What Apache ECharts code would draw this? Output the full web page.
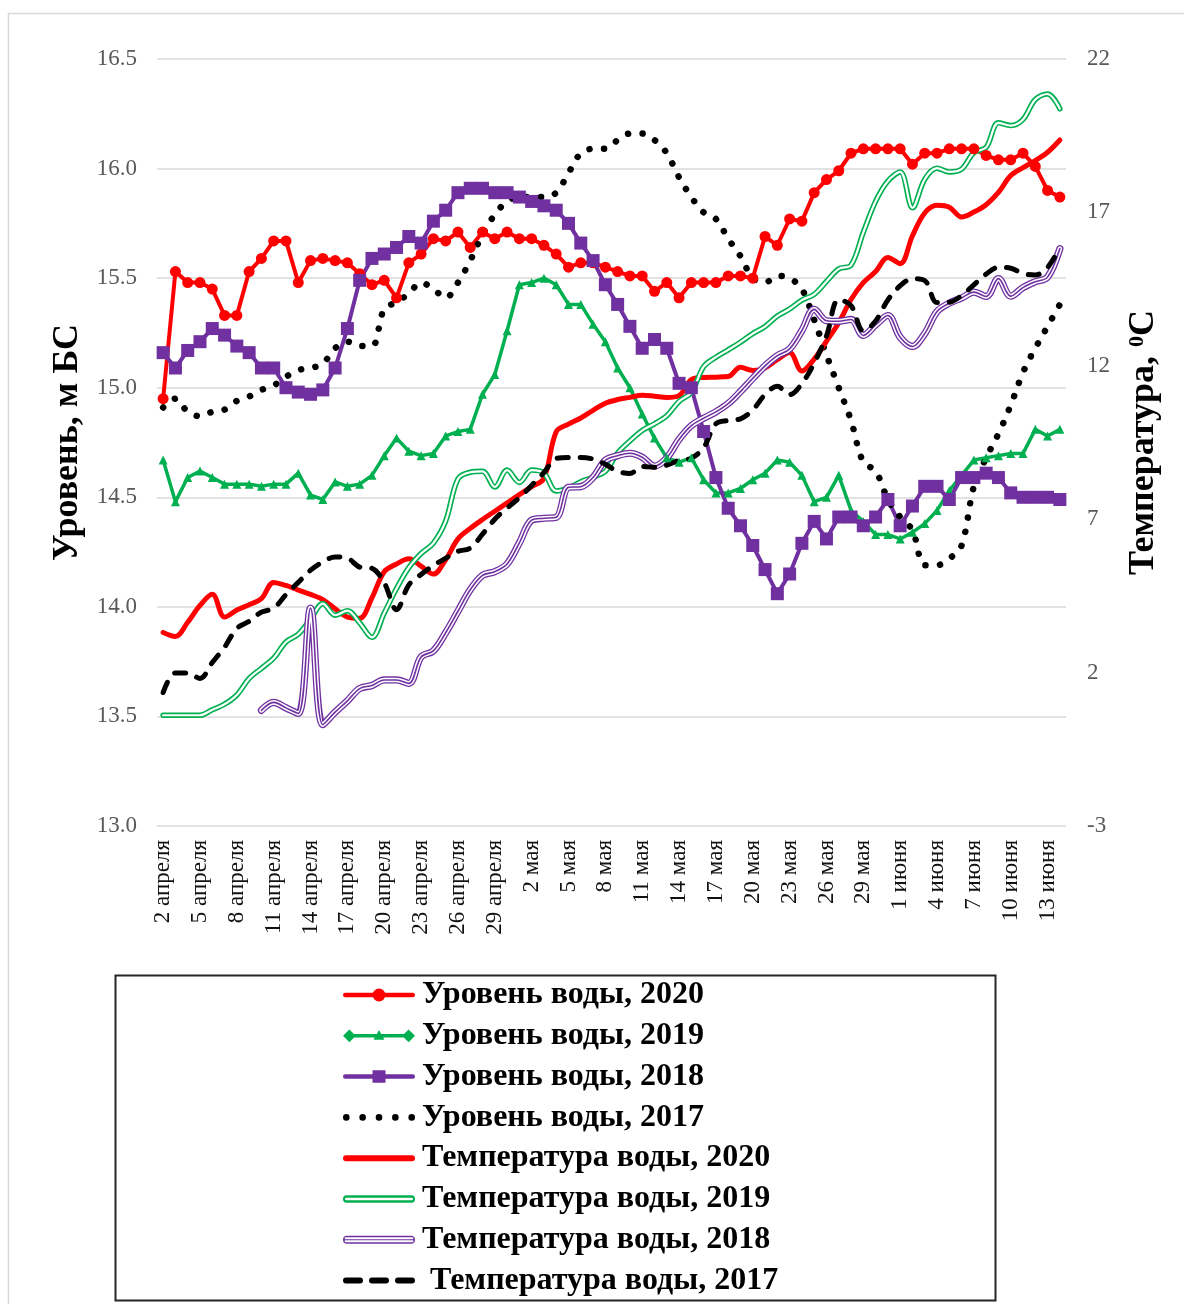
<!DOCTYPE html>
<html>
<head>
<meta charset="utf-8">
<script src="https://cdn.jsdelivr.net/npm/echarts@6/dist/echarts.min.js"></script>
<style>
  html, body { margin: 0; padding: 0; background: #ffffff; }
  #chart { width: 1184px; height: 1304px; }
</style>
</head>
<body>
<div id="chart"></div>
<script>
// Daily observations, 2 April – 14 June
const months = [
  { name: 'апреля', from: 2, to: 30 },
  { name: 'мая', from: 1, to: 31 },
  { name: 'июня', from: 1, to: 14 }
];
const dates = [];
months.forEach(m => { for (let d = m.from; d <= m.to; d++) dates.push(d + ' ' + m.name); });

// Water level, m BS (left axis)
const level2020 = [14.95, 15.53, 15.48, 15.48, 15.45, 15.33, 15.33, 15.53, 15.59, 15.67, 15.67, 15.48, 15.58, 15.59, 15.58, 15.57, 15.52, 15.47, 15.49, 15.41,
  15.57, 15.61, 15.68, 15.67, 15.71, 15.64, 15.71, 15.68, 15.71, 15.68, 15.68, 15.65, 15.61, 15.55, 15.57, 15.57, 15.55, 15.53, 15.51, 15.51,
  15.44, 15.48, 15.41, 15.48, 15.48, 15.48, 15.51, 15.51, 15.50, 15.69, 15.65, 15.77, 15.76, 15.89, 15.95, 15.99, 16.07, 16.09, 16.09, 16.09,
  16.09, 16.02, 16.07, 16.07, 16.09, 16.09, 16.09, 16.06, 16.04, 16.04, 16.07, 16.01, 15.90, 15.87];
const level2019 = [14.67, 14.48, 14.59, 14.62, 14.59, 14.56, 14.56, 14.56, 14.55, 14.56, 14.56, 14.61, 14.51, 14.49, 14.57, 14.55, 14.56, 14.60, 14.69, 14.77,
  14.71, 14.69, 14.70, 14.78, 14.80, 14.81, 14.97, 15.06, 15.26, 15.47, 15.48, 15.50, 15.47, 15.38, 15.38, 15.29, 15.21, 15.09, 15.00, 14.88,
  14.77, 14.68, 14.66, 14.68, 14.58, 14.52, 14.52, 14.54, 14.58, 14.61, 14.67, 14.66, 14.60, 14.48, 14.50, 14.60, 14.44, 14.39, 14.33, 14.33,
  14.31, 14.34, 14.38, 14.44, 14.53, 14.60, 14.67, 14.68, 14.69, 14.70, 14.70, 14.81, 14.78, 14.81];
const level2018 = [15.16, 15.09, 15.17, 15.21, 15.27, 15.24, 15.19, 15.16, 15.09, 15.09, 15.00, 14.98, 14.97, 14.99, 15.09, 15.27, 15.49, 15.59, 15.61, 15.64,
  15.69, 15.66, 15.76, 15.81, 15.89, 15.91, 15.91, 15.89, 15.89, 15.87, 15.85, 15.83, 15.81, 15.75, 15.66, 15.58, 15.47, 15.38, 15.28, 15.18,
  15.22, 15.18, 15.02, 15.00, 14.80, 14.59, 14.45, 14.37, 14.28, 14.17, 14.06, 14.15, 14.29, 14.39, 14.31, 14.41, 14.41, 14.37, 14.41, 14.49,
  14.37, 14.46, 14.55, 14.55, 14.49, 14.59, 14.59, 14.61, 14.59, 14.52, 14.50, 14.50, 14.50, 14.49];
const level2017 = [14.91, 14.95, 14.89, 14.87, 14.89, 14.90, 14.94, 14.96, 14.99, 15.01, 15.05, 15.08, 15.09, 15.11, 15.18, 15.21, 15.19, 15.19, 15.36, 15.39,
  15.43, 15.48, 15.45, 15.41, 15.48, 15.58, 15.70, 15.79, 15.85, 15.87, 15.87, 15.87, 15.89, 15.98, 16.07, 16.09, 16.09, 16.13, 16.16, 16.16,
  16.13, 16.07, 15.96, 15.87, 15.80, 15.77, 15.68, 15.60, 15.50, 15.48, 15.51, 15.50, 15.45, 15.31, 15.15, 15.00, 14.85, 14.66, 14.62, 14.49,
  14.41, 14.35, 14.19, 14.19, 14.22, 14.28, 14.55, 14.68, 14.79, 14.92, 15.07, 15.18, 15.28, 15.38];

// Water temperature, °C (right axis)
const temp2020 = [3.31, 3.18, 3.64, 4.19, 4.55, 3.81, 4.04, 4.21, 4.41, 4.94, 4.84, 4.69, 4.55, 4.38, 4.08, 3.81, 3.77, 4.44, 5.29, 5.54,
  5.71, 5.47, 5.21, 5.68, 6.36, 6.70, 6.99, 7.26, 7.53, 7.80, 8.06, 8.33, 9.85, 10.10, 10.30, 10.55, 10.78, 10.90, 10.97, 11.04,
  11.01, 10.97, 11.03, 11.55, 11.62, 11.63, 11.65, 11.95, 11.85, 11.93, 12.20, 12.43, 11.83, 12.22, 12.80, 13.40, 14.16, 14.71, 15.07, 15.53,
  15.33, 16.24, 16.98, 17.23, 17.17, 16.85, 17.01, 17.25, 17.65, 18.20, 18.46, 18.69, 18.96, 19.36];
const temp2019 = [0.61, 0.61, 0.61, 0.61, 0.79, 0.97, 1.27, 1.81, 2.14, 2.47, 3.00, 3.25, 3.74, 4.25, 3.87, 4.02, 3.62, 3.15, 3.94, 4.74,
  5.42, 5.88, 6.22, 6.94, 8.31, 8.53, 8.56, 8.05, 8.60, 8.20, 8.60, 8.50, 7.92, 8.02, 8.22, 8.37, 8.56, 9.16, 9.55, 9.89,
  10.11, 10.37, 10.84, 11.13, 11.97, 12.28, 12.52, 12.77, 13.05, 13.28, 13.62, 13.85, 14.14, 14.33, 14.75, 15.16, 15.28, 16.35, 17.36, 18.02,
  18.32, 17.15, 18.08, 18.44, 18.32, 18.41, 18.95, 19.12, 19.92, 19.83, 20.03, 20.68, 20.86, 20.38];
const temp2018 = [null, null, null, null, null, null, null, null, 0.77, 1.03, 0.85, 0.67, 4.10, 0.30, 0.71, 1.08, 1.48, 1.58, 1.76, 1.76,
  1.65, 2.51, 2.71, 3.30, 4.00, 4.70, 5.17, 5.29, 5.54, 6.23, 6.97, 7.03, 7.06, 8.04, 8.06, 8.36, 8.92, 9.07, 9.15, 9.02,
  8.73, 9.00, 9.60, 10.05, 10.29, 10.50, 10.77, 11.16, 11.59, 12.00, 12.33, 12.55, 13.15, 13.84, 13.47, 13.45, 13.51, 12.99, 13.33, 13.64,
  12.93, 12.63, 13.05, 13.77, 14.04, 14.21, 14.40, 14.26, 14.84, 14.27, 14.55, 14.74, 14.89, 15.82];
const temp2017 = [1.35, 1.99, 1.99, 1.81, 2.33, 2.83, 3.44, 3.67, 3.97, 4.10, 4.54, 4.94, 5.34, 5.61, 5.77, 5.73, 5.44, 5.40, 4.93, 4.05,
  4.86, 5.20, 5.49, 5.73, 5.95, 6.06, 6.51, 7.00, 7.36, 7.70, 8.10, 8.52, 8.98, 9.01, 9.01, 8.96, 8.79, 8.56, 8.49, 8.72,
  8.69, 8.76, 8.92, 8.99, 9.33, 10.11, 10.22, 10.27, 10.56, 11.06, 11.33, 11.06, 11.42, 12.09, 12.97, 14.16, 13.96, 13.14, 13.46, 14.15,
  14.61, 14.84, 14.78, 14.06, 14.07, 14.29, 14.64, 14.99, 15.21, 15.18, 15.01, 14.96, 15.21, 15.86];

// Axis ranges and tick labels
const levelTicks = { min: 13.0, max: 16.5, step: 0.5 };
const tempTicks = [-3, 2, 7, 12, 17, 22];

const names = {
  l2020: 'Уровень воды, 2020',
  l2019: 'Уровень воды, 2019',
  l2018: 'Уровень воды, 2018',
  l2017: 'Уровень воды, 2017',
  t2020: 'Температура воды, 2020',
  t2019: 'Температура воды, 2019',
  t2018: 'Температура воды, 2018',
  t2017: ' Температура воды, 2017'
};

const RED = '#FF0000', GREEN = '#00B050', PURPLE = '#7030A0', BLACK = '#000000';
const SERIF = '"Liberation Serif", "Times New Roman", serif';

// --- legend icon outlines (72 px wide) ---
function stadium(x0, y0, x1, y1) {
  const r = (y1 - y0) / 2;
  return `M${x0 + r} ${y0}L${x1 - r} ${y0}A${r} ${r} 0 0 1 ${x1 - r} ${y1}L${x0 + r} ${y1}A${r} ${r} 0 0 1 ${x0 + r} ${y0}Z`;
}
function hole(x0, y0, x1, y1) {
  const r = (y1 - y0) / 2;
  return `M${x0 + r} ${y0}A${r} ${r} 0 0 0 ${x0 + r} ${y1}L${x1 - r} ${y1}A${r} ${r} 0 0 0 ${x1 - r} ${y0}Z`;
}
function circle(cx, cy, r) {
  return `M${cx - r} ${cy}A${r} ${r} 0 1 1 ${cx + r} ${cy}A${r} ${r} 0 1 1 ${cx - r} ${cy}Z`;
}
function square(x0, y0, x1, y1) {
  return `M${x0} ${y0}L${x1} ${y0}L${x1} ${y1}L${x0} ${y1}Z`;
}
function diamond(cx, cy, r) {
  return `M${cx} ${cy - r}L${cx + r} ${cy}L${cx} ${cy + r}L${cx - r} ${cy}Z`;
}
function triangle(cx, cy, w, h) {
  return `M${cx} ${cy - h * 0.6}L${cx + w} ${cy + h * 0.4}L${cx - w} ${cy + h * 0.4}Z`;
}
const dots = [0, 1, 2, 3, 4].map(k => circle(3.3 + k * (72 - 6.6) / 4, 3.3, 3.3)).join('');
const icons = {
  l2020: 'path://' + stadium(0, 5, 72, 9.5) + circle(36, 7.25, 6.5),
  l2019: 'path://' + stadium(5, 5.5, 67, 9) + diamond(6, 7.25, 6.5) + diamond(66, 7.25, 6.5) + triangle(36, 7.25, 5.5, 10),
  l2018: 'path://' + stadium(0, 5, 72, 9.5) + square(29.5, 1, 42.5, 13.5),
  l2017: 'path://' + dots,
  t2020: 'path://' + stadium(0, 0, 72, 6),
  t2019: 'path://' + stadium(0, 0, 72, 7.5) + hole(2, 2.4, 70, 5.1),
  t2018: 'path://' + stadium(0, 0, 72, 8) + hole(1.6, 1.5, 70.4, 3.5) + hole(1.6, 4.5, 70.4, 6.5),
  t2017: 'path://' + stadium(0, 0, 20, 6) + stadium(26, 0, 46, 6) + stadium(52, 0, 72, 6)
};

function levelLine(name, data, color, width, symbol, size, extra) {
  return Object.assign({
    name, type: 'line', data, yAxisIndex: 0, color,
    symbol, symbolSize: size, showSymbol: symbol !== 'none', showAllSymbol: true,
    lineStyle: { color, width },
    itemStyle: { color, borderWidth: 0 },
    emphasis: { disabled: true },
    animation: false
  }, extra || {});
}
function tempLine(name, data, color, width, lineExtra) {
  return {
    name, type: 'line', data, yAxisIndex: 1, color,
    symbol: 'none', smooth: 0.35, connectNulls: false,
    lineStyle: Object.assign({ color, width, cap: 'round', join: 'round' }, lineExtra || {}),
    emphasis: { disabled: true },
    animation: false
  };
}

const series = [
  levelLine(names.l2020, level2020, RED, 4, 'circle', 11),
  levelLine(names.l2019, level2019, GREEN, 3.5, 'triangle', 9),
  levelLine(names.l2018, level2018, PURPLE, 4, 'rect', 13),
  levelLine(names.l2017, level2017, BLACK, 6.5, 'none', 0, {
    smooth: 0.35,
    lineStyle: { color: BLACK, width: 6.5, type: [0.1, 14.4], cap: 'round' }
  }),
  tempLine(names.t2020, temp2020, RED, 5),
  // double green line: green body with a white core
  tempLine(names.t2019, temp2019, GREEN, 5.5),
  tempLine('core2019', temp2019, '#FFFFFF', 2.2),
  // triple purple line: purple body, white band, purple centre
  tempLine(names.t2018, temp2018, PURPLE, 7.2),
  tempLine('band2018', temp2018, '#FFFFFF', 4.6),
  tempLine('core2018', temp2018, PURPLE, 1.6),
  tempLine(names.t2017, temp2017, BLACK, 5, { type: [11, 12] })
];

const legendKeys = ['l2020', 'l2019', 'l2018', 'l2017', 't2020', 't2019', 't2018', 't2017'];

const option = {
  backgroundColor: '#ffffff',
  animation: false,
  grid: { left: 157, right: 118, top: 59, bottom: 478, outerBoundsMode: 'none', containLabel: false },
  legend: {
    orient: 'vertical',
    left: 343,
    top: 979,
    padding: 0,
    itemWidth: 72,
    itemHeight: 18,
    itemGap: 8.8,
    symbolKeepAspect: true,
    selectedMode: false,
    itemStyle: { borderWidth: 0 },
    textStyle: { fontFamily: SERIF, fontWeight: 'bold', fontSize: 32, color: '#000', lineHeight: 32, padding: [0, 0, 0, 2] },
    data: legendKeys.map(k => ({ name: names[k], icon: icons[k] }))
  },
  xAxis: {
    type: 'category',
    data: dates,
    boundaryGap: true,
    axisLine: { show: false },
    axisTick: { show: false },
    axisLabel: {
      interval: 2,
      rotate: 90,
      margin: 14,
      fontFamily: SERIF,
      fontSize: 23,
      color: '#111111'
    },
    splitLine: { show: false }
  },
  yAxis: [
    {
      type: 'value',
      position: 'left',
      min: levelTicks.min,
      max: levelTicks.max,
      interval: levelTicks.step,
      name: 'Уровень, м БС',
      nameLocation: 'middle',
      nameRotate: 90,
      nameGap: 66,
      nameTextStyle: { fontFamily: SERIF, fontWeight: 'bold', fontSize: 36, color: '#000' },
      axisLine: { show: false },
      axisTick: { show: false },
      axisLabel: {
        margin: 20,
        fontFamily: SERIF,
        fontSize: 23,
        color: '#595959',
        formatter: v => v.toFixed(1)
      },
      splitLine: { show: true, lineStyle: { color: '#D9D9D9', width: 1.5 } }
    },
    {
      type: 'value',
      position: 'right',
      min: tempTicks[0],
      max: tempTicks[tempTicks.length - 1],
      name: 'Температура, {sup|0}С',
      nameLocation: 'middle',
      nameRotate: 90,
      nameGap: 60,
      nameTextStyle: {
        fontFamily: SERIF, fontWeight: 'bold', fontSize: 36, color: '#000',
        rich: {
          sup: { fontFamily: SERIF, fontWeight: 'bold', fontSize: 22, color: '#000', verticalAlign: 'top', lineHeight: 22 }
        }
      },
      axisLine: { show: false },
      axisTick: { show: false },
      axisLabel: {
        margin: 21,
        fontFamily: SERIF,
        fontSize: 23,
        color: '#595959',
        customValues: tempTicks
      },
      splitLine: { show: false }
    }
  ],
  graphic: [
    {
      type: 'rect', silent: true, z: -10,
      shape: { x: 8.5, y: 13.5, width: 1200, height: 1320 },
      style: { fill: null, stroke: '#D9D9D9', lineWidth: 1.5 }
    },
    {
      type: 'rect', silent: true, z: -5,
      shape: { x: 115.5, y: 975.5, width: 880, height: 325 },
      style: { fill: null, stroke: '#262626', lineWidth: 2 }
    }
  ],
  series
};

const chart = echarts.init(document.getElementById('chart'), null, { renderer: 'canvas' });
chart.setOption(option);
</script>
</body>
</html>
